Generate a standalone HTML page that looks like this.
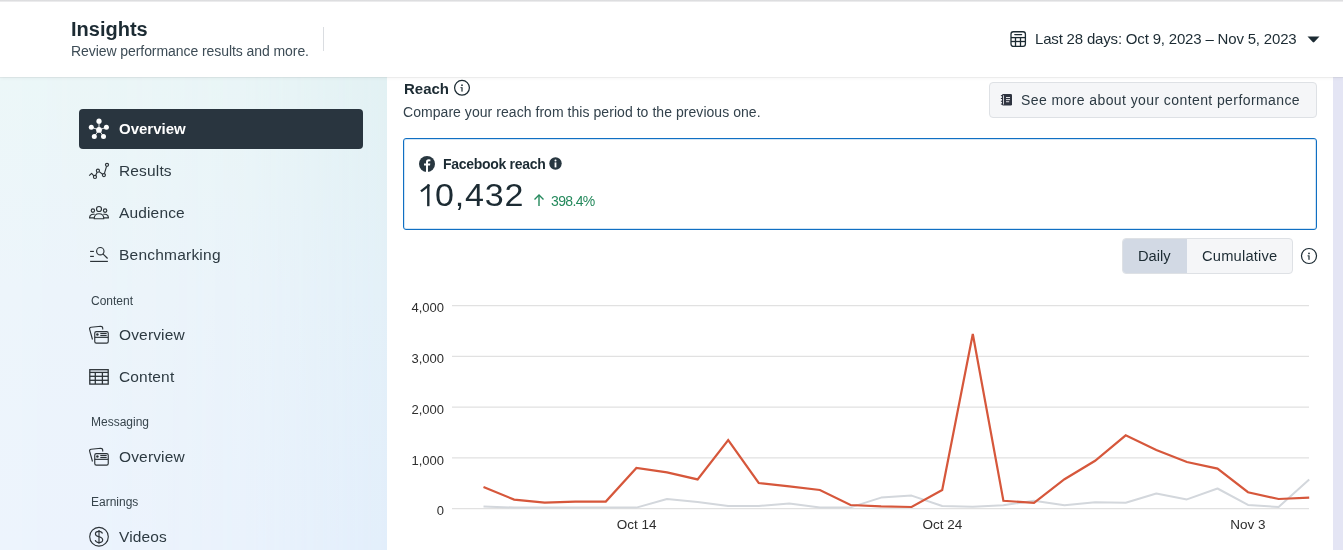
<!DOCTYPE html>
<html><head><meta charset="utf-8">
<style>
*{margin:0;padding:0;box-sizing:border-box}
html,body{width:1343px;height:550px;overflow:hidden;background:#fff;font-family:"Liberation Sans",sans-serif;color:#1c2b33}
.t{will-change:transform}
.abs{position:absolute}
.t{position:absolute;white-space:nowrap;line-height:1}
#header{position:absolute;left:0;top:0;width:1343px;height:77px;background:#fff;z-index:5;box-shadow:0 1px 0 rgba(0,0,0,0.05),0 1px 4px rgba(0,0,0,0.05)}
#topline{position:absolute;left:0;top:0;width:1343px;height:2px;background:linear-gradient(#d6d7d9,#f2f2f3)}
#sidebar{position:absolute;left:0;top:77px;width:387px;height:473px;background:linear-gradient(to bottom,#ecf7f8 0%,#edf5fb 45%,#edf4fd 100%)}
#sbov{position:absolute;left:0;top:0;width:387px;height:473px;background:linear-gradient(to bottom,#e2f1f3 0%,#e3f0f8 45%,#e2eefb 100%);-webkit-mask-image:linear-gradient(to right,rgba(0,0,0,0) 0%,rgba(0,0,0,0.12) 40%,rgba(0,0,0,0.3) 65%,rgba(0,0,0,1) 100%);mask-image:linear-gradient(to right,rgba(0,0,0,0) 0%,rgba(0,0,0,0.12) 40%,rgba(0,0,0,0.3) 65%,rgba(0,0,0,1) 100%)}
#main{position:absolute;left:387px;top:77px;width:946px;height:473px;background:#fff}
#strip{position:absolute;left:1333px;top:77px;width:10px;height:473px;background:#e4e5f4}
.nav{color:#2d3a42;font-size:15.5px;letter-spacing:0.15px}
.sec{color:#37444c;font-size:12px}
.ico{position:absolute}
</style></head>
<body>
<div id="sidebar"><div id="sbov"></div>
  <!-- active item -->
  <div class="abs" style="left:79px;top:32px;width:284px;height:40px;background:#29353f;border-radius:4px"></div>
</div>
<div id="main"></div>
<div id="strip"></div>

<!-- sidebar content (page coords) -->
<svg class="ico" style="left:84px;top:116px" width="30" height="26" viewBox="0 0 30 26"><g stroke="#fff" stroke-width="0.9"><line x1="15" y1="13.9" x2="15" y2="5.2"/><line x1="15" y1="13.9" x2="7.3" y2="11.3"/><line x1="15" y1="13.9" x2="22.4" y2="11.3"/><line x1="15" y1="13.9" x2="10.3" y2="20.5"/><line x1="15" y1="13.9" x2="19.5" y2="20.5"/></g><g fill="#fff"><circle cx="15" cy="13.9" r="2.9"/><circle cx="15" cy="5.2" r="2.6"/><circle cx="7.3" cy="11.3" r="2.5"/><circle cx="22.4" cy="11.3" r="2.5"/><circle cx="10.3" cy="20.5" r="2.5"/><circle cx="19.5" cy="20.5" r="2.5"/></g></svg>
<div class="t" style="left:119px;top:120.5px;font-size:15px;font-weight:bold;color:#fff">Overview</div>
<svg class="ico" style="left:84px;top:158px" width="30" height="26" viewBox="0 0 30 26"><g stroke="#2c3338" stroke-width="1.15" fill="none" stroke-linejoin="round"><circle cx="10.96" cy="18.9" r="1.55"/><circle cx="13.9" cy="12.7" r="1.55"/><circle cx="19.9" cy="17.1" r="1.55"/><circle cx="23.0" cy="6.85" r="1.55"/><path d="M11.62 17.50 L13.24 14.10 M15.15 13.62 L18.65 16.18 M20.35 15.62 L22.55 8.33 M5.2 17.6 L7.6 15.4 L9.89 17.78"/></g></svg>
<div class="t nav" style="left:119px;top:163px">Results</div>
<svg class="ico" style="left:84px;top:200px" width="30" height="26" viewBox="0 0 30 26"><g stroke="#2c3338" stroke-width="1.15" fill="none" stroke-linejoin="round"><circle cx="15" cy="9" r="2.5"/><circle cx="8.9" cy="10.6" r="1.7"/><circle cx="21.1" cy="10.6" r="1.7"/><path d="M10.2 18.7 C10.2 15.2 12.5 13.7 15 13.7 C17.5 13.7 19.8 15.2 19.8 18.7 Z"/><path d="M10.6 14.4 C9.2 14 5.8 14.2 5.6 17.4 L5.6 17.9 L10.2 17.9"/><path d="M19.4 14.4 C20.8 14 24.2 14.2 24.4 17.4 L24.4 17.9 L19.8 17.9"/></g></svg>
<div class="t nav" style="left:119px;top:205px">Audience</div>
<svg class="ico" style="left:84px;top:242px" width="30" height="26" viewBox="0 0 30 26"><g stroke="#2c3338" stroke-width="1.15" fill="none"><line x1="6.1" y1="9.45" x2="9.9" y2="9.45"/><line x1="6.1" y1="14.4" x2="9.9" y2="14.4"/><line x1="6.1" y1="19.4" x2="23.9" y2="19.4"/><circle cx="16.3" cy="9.2" r="3.7"/><line x1="18.9" y1="11.8" x2="23.6" y2="16.5"/></g></svg>
<div class="t nav" style="left:119px;top:247px;letter-spacing:0.22px">Benchmarking</div>
<div class="t sec" style="left:91px;top:295px">Content</div>
<svg class="ico" style="left:84px;top:322px" width="30" height="26" viewBox="0 0 30 26"><g stroke="#2c3338" stroke-width="1.15" fill="none" stroke-linejoin="round"><rect x="10.75" y="9.55" width="13.5" height="11.6" rx="1.6"/><line x1="10.75" y1="15.35" x2="24.25" y2="15.35"/><line x1="16.3" y1="11.5" x2="22.7" y2="11.5"/><line x1="16.3" y1="13.5" x2="22.7" y2="13.5"/><path d="M8.5 17.5 L5.6 7.2 Q5.3 5.5 7.1 5.2 L16.8 4.3 Q18.6 4.3 18.7 5.9 L18.7 7.6"/></g><circle cx="13.4" cy="12.4" r="1.25" fill="#2c3338"/></svg>
<div class="t nav" style="left:119px;top:327px">Overview</div>
<svg class="ico" style="left:84px;top:364px" width="30" height="26" viewBox="0 0 30 26"><g stroke="#2c3338" stroke-width="1.3" fill="none"><rect x="5.8" y="5.7" width="18.4" height="14.4"/><line x1="5.8" y1="8.4" x2="24.2" y2="8.4"/><line x1="5.8" y1="12.3" x2="24.2" y2="12.3"/><line x1="5.8" y1="16.3" x2="24.2" y2="16.3"/><line x1="11.3" y1="8.4" x2="11.3" y2="20.1"/><line x1="18.4" y1="8.4" x2="18.4" y2="20.1"/></g></svg>
<div class="t nav" style="left:119px;top:369px">Content</div>
<div class="t sec" style="left:91px;top:416px">Messaging</div>
<svg class="ico" style="left:84px;top:444px" width="30" height="26" viewBox="0 0 30 26"><g stroke="#2c3338" stroke-width="1.15" fill="none" stroke-linejoin="round"><rect x="10.75" y="9.55" width="13.5" height="11.6" rx="1.6"/><line x1="10.75" y1="15.35" x2="24.25" y2="15.35"/><line x1="16.3" y1="11.5" x2="22.7" y2="11.5"/><line x1="16.3" y1="13.5" x2="22.7" y2="13.5"/><path d="M8.5 17.5 L5.6 7.2 Q5.3 5.5 7.1 5.2 L16.8 4.3 Q18.6 4.3 18.7 5.9 L18.7 7.6"/></g><circle cx="13.4" cy="12.4" r="1.25" fill="#2c3338"/></svg>
<div class="t nav" style="left:119px;top:449px">Overview</div>
<div class="t sec" style="left:91px;top:496px">Earnings</div>
<svg class="ico" style="left:84px;top:524px" width="30" height="26" viewBox="0 0 30 26"><g stroke="#2c3338" stroke-width="1.15" fill="none"><circle cx="15" cy="12.75" r="9.3"/><path d="M18.5 9.5 C18 8 16.7 7.3 15 7.3 C13 7.3 11.4 8.3 11.4 10 C11.4 11.8 13 12.3 15 12.8 C17 13.3 18.7 13.9 18.7 15.8 C18.7 17.6 17 18.6 15 18.6 C13 18.6 11.6 17.6 11.2 16.2"/><line x1="15" y1="6" x2="15" y2="19.8"/></g></svg>
<div class="t nav" style="left:119px;top:529px">Videos</div>

<!-- main content -->
<div class="t" style="left:404px;top:80.5px;font-size:15px;font-weight:bold;color:#1c2b33">Reach</div>
<svg class="ico" style="left:453px;top:79px" width="18" height="18" viewBox="0 0 18 18">
  <circle cx="9" cy="8.8" r="7.4" stroke="#1c2b33" stroke-width="1.25" fill="none"/>
  <circle cx="9" cy="6.2" r="0.85" fill="#1c2b33"/><rect x="8.4" y="8.2" width="1.2" height="4.4" fill="#1c2b33"/><rect x="7.5" y="8.2" width="1.3" height="0.9" fill="#1c2b33"/>
</svg>
<div class="t" style="left:403px;top:105px;font-size:14px;letter-spacing:0.05px;color:#33424c">Compare your reach from this period to the previous one.</div>

<div class="abs" style="left:989px;top:82px;width:328px;height:36px;background:#f5f6f8;border:1px solid #dee1e5;border-radius:4px"></div>
<svg class="ico" style="left:1000px;top:93px" width="14" height="14" viewBox="0 0 14 14">
  <rect x="2" y="1" width="10" height="11.6" rx="1.3" fill="#2f3440"/>
  <g fill="#2f3440"><rect x="0.9" y="2.1" width="1.5" height="1.1"/><rect x="0.9" y="4.9" width="1.5" height="1.1"/><rect x="0.9" y="7.7" width="1.5" height="1.1"/><rect x="0.9" y="10.5" width="1.5" height="1.1"/></g>
  <g fill="#f5f6f8"><rect x="3.2" y="2.3" width="0.8" height="9.2"/><rect x="6" y="4.1" width="4" height="0.9"/><rect x="6" y="6.2" width="4" height="0.9"/><rect x="6" y="8.3" width="3.2" height="0.9"/></g>
</svg>
<div class="t" style="left:1021px;top:93px;font-size:14px;letter-spacing:0.41px;color:#2c3a43">See more about your content performance</div>

<!-- card -->
<div class="abs" style="left:403px;top:138px;width:914px;height:92px;border:1px solid #0f6fc3;border-radius:3px;box-shadow:inset 0 0 0 1px #d3e5f4"></div>
<svg class="ico" style="left:419px;top:156px" width="16" height="16" viewBox="0 0 16 16">
  <circle cx="8" cy="8" r="8" fill="#283740"/>
  <path d="M9 16 V9.6 H11 L11.3 7.5 H9 V6.3 Q9 5.3 10 5.3 H11.4 V3.5 Q10.6 3.3 9.7 3.3 Q7 3.3 7 6 V7.5 H5 V9.6 H7 V16 Z" fill="#fff"/>
</svg>
<div class="t" style="left:443px;top:157px;font-size:14px;letter-spacing:-0.3px;font-weight:bold;color:#1c2b33">Facebook reach</div>
<svg class="ico" style="left:549px;top:157px" width="13" height="13" viewBox="0 0 13 13">
  <circle cx="6.5" cy="6.5" r="6.2" fill="#283740"/>
  <circle cx="6.5" cy="3.5" r="1" fill="#fff"/><rect x="5.6" y="5.4" width="1.8" height="5" fill="#fff"/>
</svg>
<svg class="ico" style="left:416px;top:180px" width="18" height="30" viewBox="0 0 18 30"><path d="M12.3 4.4 L12.3 26.2" stroke="#1c2b33" stroke-width="2.4" fill="none"/><path d="M13.3 4.9 L5 11.4" stroke="#1c2b33" stroke-width="2.4" fill="none" stroke-linecap="butt"/></svg>
<div class="t" style="left:435px;top:180px;font-size:31px;letter-spacing:0.7px;transform:scaleX(1.1);transform-origin:0 0;color:#1c2b33">0,432</div>
<svg class="ico" style="left:532px;top:193px" width="14" height="14" viewBox="0 0 14 14">
  <g stroke="#24895c" stroke-width="1.4" fill="none"><line x1="7" y1="2" x2="7" y2="13"/><path d="M2.5 6.5 L7 2 L11.5 6.5"/></g>
</svg>
<div class="t" style="left:551px;top:194px;font-size:14px;letter-spacing:-0.65px;color:#24895c">398.4%</div>

<!-- toggle -->
<div class="abs" style="left:1122px;top:238px;width:171px;height:36px;background:#f5f6f8;border:1px solid #dee1e5;border-radius:4px;overflow:hidden">
  <div class="abs" style="left:0;top:0;width:64px;height:36px;background:#d2d9e4"></div>
</div>
<div class="t" style="left:1138px;top:249px;font-size:14.7px;color:#1c2b33">Daily</div>
<div class="t" style="left:1202px;top:249px;font-size:14.7px;letter-spacing:0.2px;color:#1c2b33">Cumulative</div>
<svg class="ico" style="left:1300px;top:247px" width="18" height="18" viewBox="0 0 18 18">
  <circle cx="9" cy="9" r="7.5" stroke="#1c2b33" stroke-width="1.2" fill="none"/>
  <circle cx="9" cy="6.4" r="0.85" fill="#1c2b33"/><rect x="8.4" y="8.4" width="1.2" height="4.4" fill="#1c2b33"/><rect x="7.5" y="8.4" width="1.3" height="0.9" fill="#1c2b33"/>
</svg>

<!-- chart -->
<svg class="ico" style="left:0;top:0" width="1343" height="550" viewBox="0 0 1343 550">
  <g stroke="#e1e1e1" stroke-width="1.2">
    <line x1="452" y1="305.6" x2="1309" y2="305.6"/>
    <line x1="452" y1="356.4" x2="1309" y2="356.4"/>
    <line x1="452" y1="407.2" x2="1309" y2="407.2"/>
    <line x1="452" y1="457.9" x2="1309" y2="457.9"/>
    <line x1="452" y1="508.6" x2="1309" y2="508.6"/>
  </g>
  <polyline fill="none" stroke="#d3d7dc" stroke-width="2" stroke-linejoin="round" points="483.5,506.4 514.1,507.6 544.7,507.6 575.2,507.6 605.8,507.6 636.4,507.6 667.0,499.0 697.6,502.0 728.2,506.0 758.7,506.0 789.3,503.6 819.9,507.4 850.5,507.4 881.1,497.6 911.6,495.6 942.2,506.0 972.8,506.8 1003.4,505.2 1034.0,500.8 1064.5,505.2 1095.1,502.3 1125.7,502.7 1156.3,493.5 1186.9,499.4 1217.5,488.5 1248.0,504.9 1278.6,507.0 1309.2,479.4"/>
  <polyline fill="none" stroke="#d6573b" stroke-width="2.2" stroke-linejoin="miter" points="483.5,487.0 514.1,499.6 544.7,502.6 575.2,501.6 605.8,501.6 636.4,468.0 667.0,472.4 697.6,479.4 728.2,440.1 758.7,483.0 789.3,486.4 819.9,490.0 850.5,505.0 881.1,506.4 911.6,507.0 942.2,490.0 972.8,334.0 1003.4,500.8 1034.0,502.8 1064.5,479.2 1095.1,460.8 1125.7,435.3 1156.3,450.0 1186.9,462.0 1217.5,468.6 1248.0,492.2 1278.6,499.0 1309.2,497.7"/>
  <g font-family="Liberation Sans" font-size="13" fill="#2e2e2e" text-anchor="end">
    <text x="444" y="312.3">4,000</text>
    <text x="444" y="363.1">3,000</text>
    <text x="444" y="413.9">2,000</text>
    <text x="444" y="464.6">1,000</text>
    <text x="444" y="515.3">0</text>
  </g>
  <g font-family="Liberation Sans" font-size="13.5" fill="#2e2e2e" text-anchor="middle">
    <text x="636.6" y="529">Oct 14</text>
    <text x="942.4" y="529">Oct 24</text>
    <text x="1248" y="529">Nov 3</text>
  </g>
</svg>

<div id="header">
  <div id="topline"></div>
  <div class="t" style="left:71px;top:19px;font-size:20px;font-weight:bold;color:#1c2b33">Insights</div>
  <div class="t" style="left:71px;top:44px;font-size:14px;letter-spacing:-0.07px;color:#3d4c56">Review performance results and more.</div>
  <div class="abs" style="left:323px;top:27px;width:1px;height:24px;background:#dadde1"></div>
  <svg class="ico" style="left:1009px;top:30px" width="18" height="18" viewBox="0 0 18 18">
    <g stroke="#1c2b33" stroke-width="1.3" fill="none">
      <rect x="2" y="1.75" width="14.4" height="14.6" rx="2.3"/>
      <line x1="2" y1="7.6" x2="16.4" y2="7.6"/><line x1="2" y1="11.5" x2="16.4" y2="11.5"/>
      <line x1="6.5" y1="7.6" x2="6.5" y2="16.3"/><line x1="11.5" y1="7.6" x2="11.5" y2="16.3"/>
      <line x1="5.8" y1="4.6" x2="12.6" y2="4.6" stroke-linecap="round"/>
    </g>
  </svg>
  <div class="t" style="left:1035px;top:31px;font-size:15px;letter-spacing:-0.18px;color:#1c2b33">Last 28 days: Oct 9, 2023 – Nov 5, 2023</div>
  <svg class="ico" style="left:1307px;top:36px" width="13" height="7" viewBox="0 0 13 7">
    <path d="M0.5 0.5 H12.5 L7.3 6 Q6.5 6.8 5.7 6 Z" fill="#1c2b33"/>
  </svg>
</div>
</body></html>
